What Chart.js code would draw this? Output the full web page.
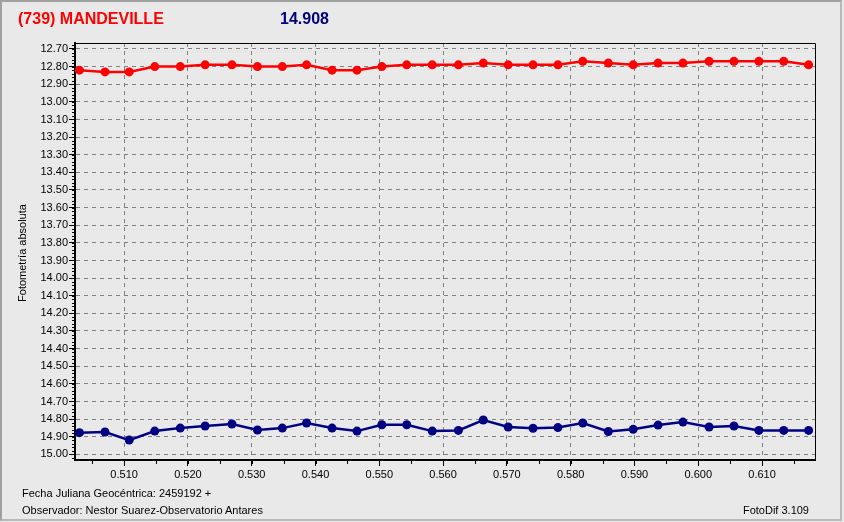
<!DOCTYPE html>
<html>
<head>
<meta charset="utf-8">
<script src="https://cdn.jsdelivr.net/npm/chart.js@4.4.1/dist/chart.umd.min.js"></script>
<style>
  body { margin: 0; background: #e9e9ea; }
  #wrap { position: relative; width: 844px; height: 522px; background: #e9e9ea; overflow: hidden;
          font-family: "Liberation Sans", Arial, sans-serif; }
  #frame { position: absolute; left: 0; top: 0; width: 838px; height: 517px;
           border-top: 2px solid #a0a0a0; border-left: 2px solid #a0a0a0;
           border-right: 2px solid #b9b9b9; border-bottom: 2px solid #b9b9b9; }
  canvas { position: absolute; left: 0; top: 0; }
  .txt { position: absolute; white-space: nowrap; }
  #title { left: 18px; top: 9px; font-size: 16px; line-height: 20px; font-weight: bold; color: #ff0000; }
  #mean { left: 280px; top: 9px; font-size: 16px; line-height: 20px; font-weight: bold; color: #000080; }
  #ylab { left: 22px; top: 253px; font-size: 11px; line-height: 12px; color: #000;
          transform: translate(-50%, -50%) rotate(-90deg); }
  #foot1 { left: 22px; top: 487px; font-size: 11px; line-height: 13px; color: #000; }
  #foot2 { left: 22px; top: 504px; font-size: 11px; line-height: 13px; color: #000; }
  #ver { right: 35px; top: 504px; font-size: 11px; line-height: 13px; color: #000; }
</style>
</head>
<body>
<div id="wrap">
  <canvas id="chart" width="844" height="522"></canvas>
  <div id="frame"></div>
  <div class="txt" id="title">(739) MANDEVILLE</div>
  <div class="txt" id="mean">14.908</div>
  <div class="txt" id="ylab">Fotometría absoluta</div>
  <div class="txt" id="foot1">Fecha Juliana Geocéntrica: 2459192 +</div>
  <div class="txt" id="foot2">Observador: Nestor Suarez-Observatorio Antares</div>
  <div class="txt" id="ver">FotoDif 3.109</div>
</div>
<script>
// julian date fraction (2459192 +)
const jd = [0.5030, 0.5070, 0.5108, 0.5148, 0.5188, 0.5227, 0.5269, 0.5309, 0.5348, 0.5386,
            0.5426, 0.5465, 0.5504, 0.5543, 0.5583, 0.5624, 0.5663, 0.5702, 0.5741, 0.5780,
            0.5819, 0.5859, 0.5898, 0.5937, 0.5976, 0.6017, 0.6056, 0.6095, 0.6134, 0.6173];

// asteroid (red)
const magAsteroid = [12.82, 12.83, 12.83, 12.80, 12.80, 12.79, 12.79, 12.80, 12.80, 12.79,
                     12.82, 12.82, 12.80, 12.79, 12.79, 12.79, 12.78, 12.79, 12.79, 12.79,
                     12.77, 12.78, 12.79, 12.78, 12.78, 12.77, 12.77, 12.77, 12.77, 12.79];

// comparison (blue)
const magComp = [14.877, 14.873, 14.919, 14.868, 14.851, 14.839, 14.828, 14.862, 14.851, 14.822,
                 14.851, 14.868, 14.832, 14.832, 14.868, 14.864, 14.805, 14.845, 14.852, 14.848,
                 14.822, 14.870, 14.858, 14.834, 14.817, 14.845, 14.839, 14.864, 14.864, 14.864];

const xRange = [0.5023, 0.6183];
const yRange = [12.666, 15.032];

function toPoints(values) {
    return jd.map((x, i) => ({ x: x, y: values[i] }));
}

// top / right border of the plot and the minor ticks
const plotExtras = {
    id: 'plotExtras',
    afterDraw(chart) {
        const ctx = chart.ctx;
        const a = chart.chartArea;
        const xs = chart.scales.x, ys = chart.scales.y;
        ctx.save();
        ctx.strokeStyle = '#000';
        ctx.lineWidth = 1;
        ctx.beginPath();
        ctx.moveTo(a.left, a.top + 0.5);
        ctx.lineTo(a.right + 0.5, a.top + 0.5);
        ctx.lineTo(a.right + 0.5, a.bottom);
        ctx.stroke();

        ctx.beginPath();
        for (let k = Math.ceil(xs.min / 0.005); k * 0.005 <= xs.max; k++) {
            const px = Math.round(xs.getPixelForValue(k * 0.005)) + 0.5;
            ctx.moveTo(px, a.bottom);
            ctx.lineTo(px, a.bottom + 4);
        }
        for (let k = Math.ceil(ys.min / 0.02); k * 0.02 <= ys.max; k++) {
            const py = Math.round(ys.getPixelForValue(k * 0.02)) + 0.5;
            ctx.moveTo(a.left - 3, py);
            ctx.lineTo(a.left, py);
        }
        ctx.stroke();
        ctx.restore();
    }
};

const tickFont = { family: '"Liberation Sans", Arial, sans-serif', size: 11 };

new Chart(document.getElementById('chart').getContext('2d'), {
    type: 'scatter',
    data: {
        datasets: [{
            label: '(739) Mandeville',
            data: toPoints(magAsteroid),
            showLine: true,
            borderColor: '#ff0000',
            backgroundColor: '#ff0000',
            borderWidth: 2.5,
            pointRadius: 4.5,
            pointBorderWidth: 0
        }, {
            label: 'Comparacion',
            data: toPoints(magComp),
            showLine: true,
            borderColor: '#000080',
            backgroundColor: '#000080',
            borderWidth: 2.5,
            pointRadius: 4.5,
            pointBorderWidth: 0
        }]
    },
    options: {
        responsive: false,
        animation: false,
        devicePixelRatio: 1,
        layout: { padding: { left: 0, top: 43, right: 29, bottom: 40 } },
        plugins: {
            legend: { display: false },
            tooltip: { enabled: false }
        },
        scales: {
            x: {
                type: 'linear',
                min: xRange[0],
                max: xRange[1],
                afterFit: (scale) => { scale.height = 22; },
                grid: { color: '#808080', lineWidth: 1, tickLength: 6, tickColor: '#000' },
                border: { color: '#000', width: 2, dash: [4, 4] },
                ticks: {
                    stepSize: 0.01,
                    includeBounds: false,
                    autoSkip: false,
                    maxRotation: 0,
                    padding: 2,
                    color: '#000',
                    font: tickFont,
                    callback: (v) => v.toFixed(3)
                }
            },
            y: {
                type: 'linear',
                reverse: true,
                min: yRange[0],
                max: yRange[1],
                afterFit: (scale) => { scale.width = 75; },
                grid: { color: '#808080', lineWidth: 1, tickLength: 6, tickColor: '#000' },
                border: { color: '#000', width: 2, dash: [4, 4] },
                ticks: {
                    stepSize: 0.1,
                    includeBounds: false,
                    autoSkip: false,
                    padding: 1,
                    color: '#000',
                    font: tickFont,
                    callback: (v) => v.toFixed(2)
                }
            }
        }
    },
    plugins: [plotExtras]
});
</script>
</body>
</html>
